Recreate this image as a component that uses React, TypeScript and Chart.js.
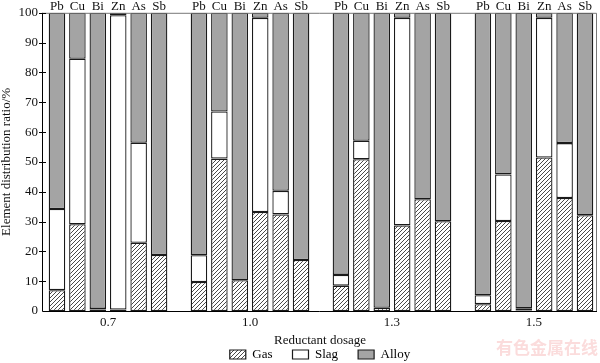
import React, { useEffect, useRef } from "react";
import { Chart, registerables } from "chart.js";

Chart.register(...registerables);

const dosages = ["0.7", "1.0", "1.3", "1.5"];
const elements = ["Pb", "Cu", "Bi", "Zn", "As", "Sb"];
const components = ["Gas", "Slag", "Alloy"];

// rows: Pb, Cu, Bi, Zn, As, Sb ; columns: dosage 0.7, 1.0, 1.3, 1.5
const gasValues = [
  [7.0, 9.7, 8.5, 2.3],
  [29.1, 51.1, 50.9, 30.2],
  [0.5, 10.3, 1.1, 0.2],
  [0.5, 33.2, 28.7, 51.5],
  [22.9, 32.4, 37.5, 37.9],
  [18.8, 17.1, 30.1, 32.1],
];
const slagValues = [
  [27.2, 9.0, 3.6, 3.0],
  [55.5, 15.8, 6.2, 15.6],
  [0.2, 0, 0, 0.7],
  [98.7, 65.1, 69.6, 46.8],
  [33.5, 7.9, 0, 18.4],
  [0, 0, 0, 0],
];
const alloyValues = [
  [65.8, 81.3, 87.9, 94.7],
  [15.4, 33.1, 42.9, 54.2],
  [99.3, 89.7, 98.9, 99.1],
  [0.8, 1.7, 1.7, 1.7],
  [43.6, 59.7, 62.5, 43.7],
  [81.2, 82.9, 69.9, 67.9],
];
const yTickValues = [0, 10, 20, 30, 40, 50, 60, 70, 80, 90, 100];

const SERIF = "'Liberation Serif', 'Times New Roman', Tinos, serif";
const TEXT = "#111111";

function makeHatch(): CanvasPattern | string {
  const s = 4;
  const c = document.createElement("canvas");
  c.width = s;
  c.height = s;
  const g = c.getContext("2d");
  if (!g) return "#ffffff";
  g.fillStyle = "#ffffff";
  g.fillRect(0, 0, s, s);
  g.strokeStyle = "#1a1a1a";
  g.lineWidth = 0.8;
  g.beginPath();
  g.moveTo(0, s);
  g.lineTo(s, 0);
  g.moveTo(-1, 1);
  g.lineTo(1, -1);
  g.moveTo(s - 1, s + 1);
  g.lineTo(s + 1, s - 1);
  g.stroke();
  return g.createPattern(c, "repeat") || "#ffffff";
}

const decorPlugin = {
  id: "decor",
  afterDatasetsDraw(chart: any) {
    const { ctx, chartArea: a, scales } = chart;
    ctx.save();
    ctx.lineWidth = 1;
    ctx.strokeStyle = "#777777";
    ctx.beginPath();
    ctx.moveTo(a.left, a.top + 0.5);
    ctx.lineTo(a.right - 0.5, a.top + 0.5);
    ctx.lineTo(a.right - 0.5, a.bottom);
    ctx.stroke();
    ctx.strokeStyle = "#000000";
    ctx.beginPath();
    ctx.moveTo(a.left - 0.5, a.top);
    ctx.lineTo(a.left - 0.5, a.bottom + 0.5);
    ctx.lineTo(a.right, a.bottom + 0.5);
    ctx.stroke();
    ctx.beginPath();
    for (const v of yTickValues) {
      if (v === 0) continue;
      const y = Math.round(scales.y.getPixelForValue(v)) + 0.5;
      ctx.moveTo(a.left - 4, y);
      ctx.lineTo(a.left + 3, y);
    }
    ctx.stroke();
    ctx.fillStyle = TEXT;
    ctx.font = `13px ${SERIF}`;
    ctx.textAlign = "center";
    ctx.textBaseline = "alphabetic";
    elements.forEach((el, e) => {
      const meta = chart.getDatasetMeta(e * 3);
      meta.data.forEach((bar: any) => {
        ctx.fillText(el, bar.x, a.top - 2.5);
      });
    });
    ctx.restore();
  },
  afterDraw(chart: any) {
    const { ctx } = chart;
    ctx.save();
    ctx.fillStyle = "#fbdcdc";
    ctx.font = `bold 17px 'Noto Sans CJK SC', sans-serif`;
    ctx.textAlign = "right";
    ctx.textBaseline = "middle";
    ctx.fillText("有色金属在线", 598, 348);
    ctx.restore();
  },
};

export default function App() {
  const ref = useRef<HTMLCanvasElement | null>(null);

  useEffect(() => {
    let chart: Chart | null = null;
    let cancelled = false;

    const build = () => {
      if (cancelled || !ref.current) return;
      const hatch = makeHatch();
      const fills: any[] = [hatch, "#ffffff", "#a4a4a4"];
      const valueSets = [gasValues, slagValues, alloyValues];
      const datasets: any[] = [];
      elements.forEach((el, e) => {
        components.forEach((comp, c) => {
          datasets.push({
            label: `${comp} ${el}`,
            stack: el,
            data: dosages.map((_, j) => ({ x: j, y: valueSets[c][e][j] })),
            backgroundColor: fills[c],
            borderColor: "#1a1a1a",
            borderWidth: 1.3,
            borderSkipped: false,
            categoryPercentage: 0.863,
            barPercentage: 0.81,
          });
        });
      });

      const font = { family: SERIF, size: 13 };

      chart = new Chart(ref.current, {
        type: "bar",
        data: { datasets },
        plugins: [decorPlugin],
        options: {
          animation: false,
          responsive: false,
          layout: { padding: { top: 12, right: 3, left: 0, bottom: 0 } },
          plugins: {
            legend: {
              position: "bottom",
              fullSize: false,
              maxHeight: 35,
              onClick: () => {},
              labels: {
                boxWidth: 16,
                boxHeight: 9,
                padding: 20,
                color: TEXT,
                font,
                generateLabels: () =>
                  components.map((comp, c) => ({
                    text: comp,
                    fillStyle: fills[c],
                    strokeStyle: "#1a1a1a",
                    lineWidth: 1.2,
                    hidden: false,
                    datasetIndex: c,
                  })),
              },
            },
            tooltip: { enabled: false },
          },
          scales: {
            x: {
              type: "linear",
              offset: false,
              min: -0.458,
              max: 3.444,
              afterBuildTicks: (s: any) => {
                s.ticks = dosages.map((_, i) => ({ value: i }));
              },
              afterFit: (s: any) => {
                s.height = 17;
              },
              grid: { display: false, drawTicks: false },
              border: { display: false },
              ticks: {
                autoSkip: false,
                maxRotation: 0,
                padding: 4,
                color: TEXT,
                font,
                callback: (v: any) => dosages[v] ?? "",
              },
              title: {
                display: true,
                text: "Reductant dosage",
                color: TEXT,
                font,
                padding: { top: 0, bottom: -20.8 },
              },
            },
            y: {
              stacked: true,
              min: 0,
              max: 100,
              afterBuildTicks: (s: any) => {
                s.ticks = yTickValues.map((v) => ({ value: v }));
              },
              afterFit: (s: any) => {
                s.width = 43;
              },
              grid: { display: false, drawTicks: false },
              border: { display: false },
              ticks: { padding: 5, color: TEXT, font },
              title: {
                display: true,
                text: "Element distribution ratio/%",
                color: TEXT,
                font: { family: SERIF, size: 13, lineHeight: 1 },
                padding: { top: 0, bottom: 0 },
              },
            },
          },
        } as any,
      });
    };

    const fontsApi: any = (document as any).fonts;
    if (fontsApi && fontsApi.load) {
      Promise.all([
        fontsApi.load("13px 'Liberation Serif'"),
        fontsApi.load("bold 17px 'Noto Sans CJK SC'"),
      ])
        .catch(() => undefined)
        .then(build);
    } else {
      build();
    }

    return () => {
      cancelled = true;
      if (chart) chart.destroy();
    };
  }, []);

  return (
    <div style={{ position: "fixed", left: 0, top: 0, width: 600, height: 363, background: "#ffffff" }}>
      <canvas ref={ref} width={600} height={363} style={{ display: "block" }} />
    </div>
  );
}
